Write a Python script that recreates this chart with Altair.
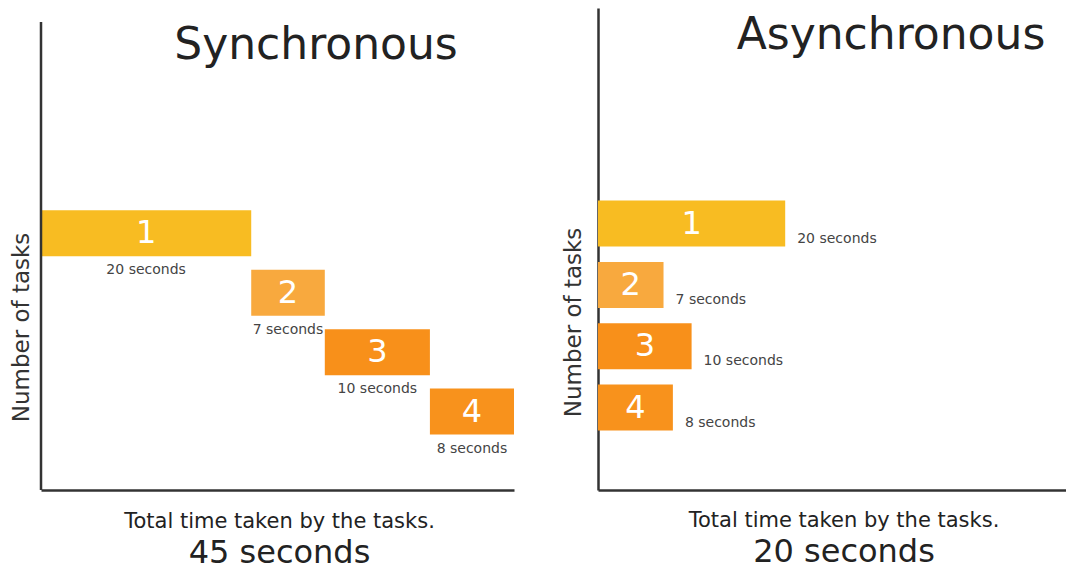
import altair as alt
import pandas as pd

# ---- data ----
tasks = [1, 2, 3, 4]
task_labels = ["1", "2", "3", "4"]
durations = [20, 7, 10, 8]
duration_labels = ["20 seconds", "7 seconds", "10 seconds", "8 seconds"]
colors = ["#F8BC22", "#F8A93E", "#F8901A", "#F8921C"]
panel_titles = ["Synchronous", "Asynchronous"]
totals = ["45 seconds", "20 seconds"]
x_caption = "Total time taken by the tasks."
y_caption = "Number of tasks"

FONT = "DejaVu Sans"
INK = "#222222"
LINE = "#333333"

# synchronous: tasks run one after another
sync_start = [sum(durations[:i]) for i in range(len(durations))]
sync_end = [s + d for s, d in zip(sync_start, durations)]
# asynchronous: all tasks start together
async_start = [0 for _ in durations]
async_end = list(durations)


def frame(starts, ends):
    return pd.DataFrame({
        "task": tasks,
        "label": task_labels,
        "dur_label": duration_labels,
        "start": starts,
        "end": ends,
        "mid": [(s + e) / 2 for s, e in zip(starts, ends)],
    })


def panel(df, xmax, ydom, width, title_text, title_x, title_y,
          ytitle_x, ytitle_y, total, side_labels, show_ydomain, title_dx):
    yaxis = alt.Axis(title=y_caption, labels=False, ticks=False, grid=False,
                     domain=show_ydomain, domainColor=LINE, domainWidth=2.5,
                     titleFont=FONT, titleFontSize=23, titleFontWeight="normal",
                     titleColor=LINE, titleX=ytitle_x, titleY=ytitle_y,
                     titleAlign="center", titleBaseline="middle")
    xaxis = alt.Axis(title=None, labels=False, ticks=False, grid=False,
                     domainColor=LINE, domainWidth=2.5)
    base = alt.Chart(df).encode(
        y=alt.Y("task:Q", scale=alt.Scale(domain=ydom, reverse=True), axis=yaxis)
    )
    bars = base.mark_bar(size=46).encode(
        x=alt.X("start:Q", scale=alt.Scale(domain=[0, xmax]), axis=xaxis),
        x2="end:Q",
        color=alt.Color("label:N", scale=alt.Scale(domain=task_labels, range=colors),
                        legend=None),
    )
    nums = base.mark_text(color="white", fontSize=32, font=FONT,
                          baseline="middle").encode(x="mid:Q", text="label:N")
    if side_labels:
        dl = base.mark_text(align="left", baseline="middle", dx=12, dy=15,
                            fontSize=14, font=FONT, color="#444444").encode(
            x="end:Q", text="dur_label:N")
    else:
        dl = base.mark_text(align="center", baseline="middle", dy=37,
                            fontSize=14, font=FONT, color="#444444").encode(
            x="mid:Q", text="dur_label:N")
    head = alt.Chart(alt.Data(values=[{}])).mark_text(
        text=title_text, fontSize=44, font=FONT, color=INK,
        align="center", baseline="alphabetic"
    ).encode(x=alt.value(title_x), y=alt.value(title_y))
    layers = [bars, nums, dl, head]
    if not show_ydomain:
        rule = alt.Chart(alt.Data(values=[{}])).mark_rule(
            color=LINE, strokeWidth=2.5
        ).encode(x=alt.value(0), y=alt.value(14), y2=alt.value(482))
        layers.append(rule)
    return alt.layer(*layers).properties(
        width=width, height=482,
        title=alt.TitleParams(
            text=x_caption, subtitle=total, orient="bottom", anchor="middle",
            font=FONT, fontSize=21, fontWeight="normal", color=INK,
            subtitleFont=FONT, subtitleFontSize=32, subtitleColor=INK,
            offset=20, subtitlePadding=6, dx=title_dx,
        ),
    )


left = panel(frame(sync_start, sync_end), 45, [-2.709, 5.236], 473,
             panel_titles[0], 275, 51, -20, 319, totals[0], False, False, 2)
right = panel(frame(async_start, async_end), 50, [-2.431, 5.261], 468,
              panel_titles[1], 293, 41, -25, 314, totals[1], True, True, 12)

chart = alt.hconcat(left, right, spacing=48).resolve_scale(
    x="independent", y="independent"
).configure_view(stroke=None).properties(
    padding={"left": 2, "top": 0, "right": 0, "bottom": 0},
    background="white",
)

chart.save("out.html", embed_options={"renderer": "svg", "actions": False})
